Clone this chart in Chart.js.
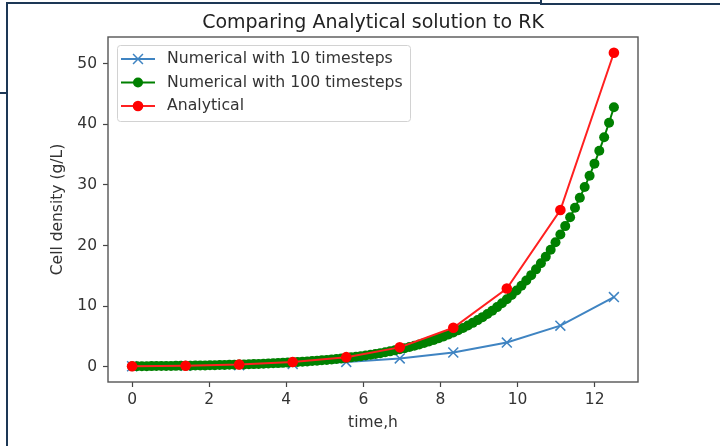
<!DOCTYPE html>
<html>
<head>
<meta charset="utf-8">
<script src="https://cdn.jsdelivr.net/npm/chart.js@4.4.1/dist/chart.umd.min.js"></script>
<style>
  html, body { margin: 0; padding: 0; background: #fff; }
  #marco { position: relative; width: 720px; height: 446px; overflow: hidden; }
  canvas { position: absolute; left: 0; top: 0; }
  .borde { position: absolute; background: #1d3856; }
</style>
</head>
<body>
<div id="marco">
  <canvas id="grafica" width="720" height="446"></canvas>
  <!-- bordes de la captura -->
  <div class="borde" style="left:6px; top:2px; width:2px; height:444px"></div>
  <div class="borde" style="left:6px; top:2px; width:536px; height:2px"></div>
  <div class="borde" style="left:540px; top:0; width:2px; height:5px"></div>
  <div class="borde" style="left:540px; top:3px; width:180px; height:2px"></div>
  <div class="borde" style="left:0; top:92px; width:7px; height:2px"></div>
</div>
<script>
    // Datos (tiempo en h, densidad en g/L)
    const tiempo10 = [0, 1.389, 2.778, 4.167, 5.556, 6.944, 8.333, 9.722, 11.111, 12.5];
    const numerico10 = [0.1, 0.169, 0.287, 0.486, 0.824, 1.397, 2.367, 4.01, 6.795, 11.51];
    const analitico = [0.1, 0.2, 0.401, 0.803, 1.608, 3.221, 6.45, 12.92, 25.87, 51.8];

    const tiempo100 = [
        0, 0.126, 0.253, 0.379, 0.505, 0.631, 0.758, 0.884, 1.010, 1.136,
        1.263, 1.389, 1.515, 1.641, 1.768, 1.894, 2.020, 2.146, 2.273, 2.399,
        2.525, 2.652, 2.778, 2.904, 3.030, 3.157, 3.283, 3.409, 3.535, 3.662,
        3.788, 3.914, 4.040, 4.167, 4.293, 4.419, 4.545, 4.672, 4.798, 4.924,
        5.051, 5.177, 5.303, 5.429, 5.556, 5.682, 5.808, 5.934, 6.061, 6.187,
        6.313, 6.439, 6.566, 6.692, 6.818, 6.944, 7.071, 7.197, 7.323, 7.449,
        7.576, 7.702, 7.828, 7.955, 8.081, 8.207, 8.333, 8.460, 8.586, 8.712,
        8.838, 8.965, 9.091, 9.217, 9.343, 9.470, 9.596, 9.722, 9.848, 9.975,
        10.101, 10.227, 10.354, 10.480, 10.606, 10.732, 10.859, 10.985, 11.111, 11.237,
        11.364, 11.490, 11.616, 11.742, 11.869, 11.995, 12.121, 12.247, 12.374, 12.5
    ];
    const numerico100 = [
        0.1, 0.1063, 0.113, 0.1202, 0.1277, 0.1358, 0.1444, 0.1535, 0.1632, 0.1735,
        0.1844, 0.1961, 0.2085, 0.2216, 0.2356, 0.2505, 0.2663, 0.2831, 0.301, 0.32,
        0.3402, 0.3617, 0.3845, 0.4088, 0.4346, 0.462, 0.4912, 0.5222, 0.5552, 0.5902,
        0.6274, 0.6671, 0.7092, 0.7539, 0.8015, 0.8521, 0.9058, 0.9631, 1.024, 1.089,
        1.157, 1.23, 1.308, 1.391, 1.478, 1.572, 1.671, 1.776, 1.888, 2.008,
        2.134, 2.269, 2.412, 2.564, 2.726, 2.898, 3.081, 3.276, 3.482, 3.702,
        3.936, 4.184, 4.448, 4.729, 5.027, 5.344, 5.682, 6.04, 6.421, 6.827,
        7.258, 7.716, 8.202, 8.72, 9.27, 9.855, 10.48, 11.14, 11.84, 12.59,
        13.38, 14.23, 15.13, 16.08, 17.09, 18.17, 19.32, 20.54, 21.84, 23.21,
        24.68, 26.24, 27.89, 29.65, 31.52, 33.51, 35.63, 37.87, 40.26, 42.81
    ];

    const ticksX = [0, 2, 4, 6, 8, 10, 12];
    const ticksY = [0, 10, 20, 30, 40, 50];

    const fuente = "'DejaVu Sans', sans-serif";

    function puntos(xs, ys) {
        return xs.map(function (x, i) { return { x: x, y: ys[i] }; });
    }

    // Marco completo de los ejes, como en matplotlib
    const pluginMarco = {
        id: 'marco',
        afterDatasetsDraw(chart) {
            const a = chart.chartArea;
            const ctx = chart.ctx;
            ctx.save();
            ctx.strokeStyle = '#555';
            ctx.lineWidth = 1.4;
            ctx.strokeRect(a.left, a.top, a.right - a.left, a.bottom - a.top);
            ctx.restore();
        }
    };

    // Leyenda dentro del area de la grafica
    const pluginLeyenda = {
        id: 'leyenda',
        afterDraw(chart) {
            const a = chart.chartArea;
            const ctx = chart.ctx;
            const x0 = a.left + 9, y0 = a.top + 8, w = 293, h = 76;
            ctx.save();
            ctx.fillStyle = 'rgba(255,255,255,0.85)';
            ctx.strokeStyle = '#d2d2d2';
            ctx.lineWidth = 1;
            ctx.beginPath();
            ctx.roundRect(x0 + 0.5, y0 + 0.5, w, h, 3);
            ctx.fill();
            ctx.stroke();

            chart.data.datasets.forEach(function (ds, i) {
                const y = y0 + 14 + i * 23.5;
                ctx.strokeStyle = ds.borderColor;
                ctx.lineWidth = ds.borderWidth;
                ctx.beginPath();
                ctx.moveTo(x0 + 4, y);
                ctx.lineTo(x0 + 38, y);
                ctx.stroke();

                const mx = x0 + 21, r = ds.pointRadius;
                if (ds.pointStyle === 'crossRot') {
                    const d = r * Math.SQRT1_2;
                    ctx.strokeStyle = ds.pointBorderColor;
                    ctx.lineWidth = ds.pointBorderWidth;
                    ctx.beginPath();
                    ctx.moveTo(mx - d, y - d); ctx.lineTo(mx + d, y + d);
                    ctx.moveTo(mx - d, y + d); ctx.lineTo(mx + d, y - d);
                    ctx.stroke();
                } else {
                    ctx.fillStyle = ds.pointBackgroundColor;
                    ctx.beginPath();
                    ctx.arc(mx, y, r, 0, Math.PI * 2);
                    ctx.fill();
                }

                ctx.fillStyle = '#333';
                ctx.font = '15.7px ' + fuente;
                ctx.textBaseline = 'middle';
                ctx.textAlign = 'left';
                ctx.fillText(ds.label, x0 + 50, y);
            });
            ctx.restore();
        }
    };

    const datos = {
        datasets: [{
            label: 'Numerical with 10 timesteps',
            data: puntos(tiempo10, numerico10),
            borderColor: '#3f84c2',
            borderWidth: 2,
            pointStyle: 'crossRot',
            pointRadius: 7,
            pointBorderColor: '#3f84c2',
            pointBorderWidth: 1.5,
            pointBackgroundColor: '#3f84c2',
            order: 3
        }, {
            label: 'Numerical with 100 timesteps',
            data: puntos(tiempo100, numerico100),
            borderColor: '#008000',
            borderWidth: 2,
            pointStyle: 'circle',
            pointRadius: 5,
            pointBorderWidth: 0,
            pointBackgroundColor: '#008000',
            order: 2
        }, {
            label: 'Analytical',
            data: puntos(tiempo10, analitico),
            borderColor: '#ff2020',
            borderWidth: 2,
            pointStyle: 'circle',
            pointRadius: 5.3,
            pointBorderWidth: 0,
            pointBackgroundColor: '#ff0000',
            order: 1
        }]
    };

    const config = {
        type: 'scatter',
        data: datos,
        options: {
            responsive: false,
            devicePixelRatio: 1,
            animation: false,
            showLine: true,
            layout: { padding: { left: 0, top: 0, right: 82, bottom: 0 } },
            plugins: {
                legend: { display: false },
                tooltip: { enabled: false },
                title: {
                    display: true,
                    text: 'Comparing Analytical solution to RK',
                    fullSize: false,
                    color: '#222',
                    font: { family: fuente, size: 19, weight: 'normal' },
                    padding: { top: 11.6, bottom: 2.6 }
                }
            },
            scales: {
                x: {
                    type: 'linear',
                    min: -0.625,
                    max: 13.125,
                    afterFit: function (s) { s.height = 64; },
                    afterBuildTicks: function (s) { s.ticks = ticksX.map(function (v) { return { value: v }; }); },
                    grid: { drawOnChartArea: false, drawTicks: true, tickLength: 5, tickColor: '#444', tickWidth: 1.2 },
                    border: { display: false },
                    ticks: { color: '#333', font: { family: fuente, size: 15.5 }, padding: 4, maxRotation: 0 },
                    title: {
                        display: true, text: 'time,h', color: '#333',
                        font: { family: fuente, size: 15.5 },
                        padding: { top: 0, bottom: 14 }
                    }
                },
                y: {
                    type: 'linear',
                    min: -2.49,
                    max: 54.39,
                    afterFit: function (s) { s.width = 108; },
                    afterBuildTicks: function (s) { s.ticks = ticksY.map(function (v) { return { value: v }; }); },
                    grid: { drawOnChartArea: false, drawTicks: true, tickLength: 5, tickColor: '#444', tickWidth: 1.2 },
                    border: { display: false },
                    ticks: { color: '#333', font: { family: fuente, size: 15.5 }, padding: 6 },
                    title: {
                        display: true, text: 'Cell density (g/L)', color: '#333',
                        font: { family: fuente, size: 15.5 },
                        padding: { top: 49, bottom: 0 }
                    }
                }
            }
        },
        plugins: [pluginMarco, pluginLeyenda]
    };

    var grafica = new Chart(document.getElementById('grafica'), config);
</script>
</body>
</html>
